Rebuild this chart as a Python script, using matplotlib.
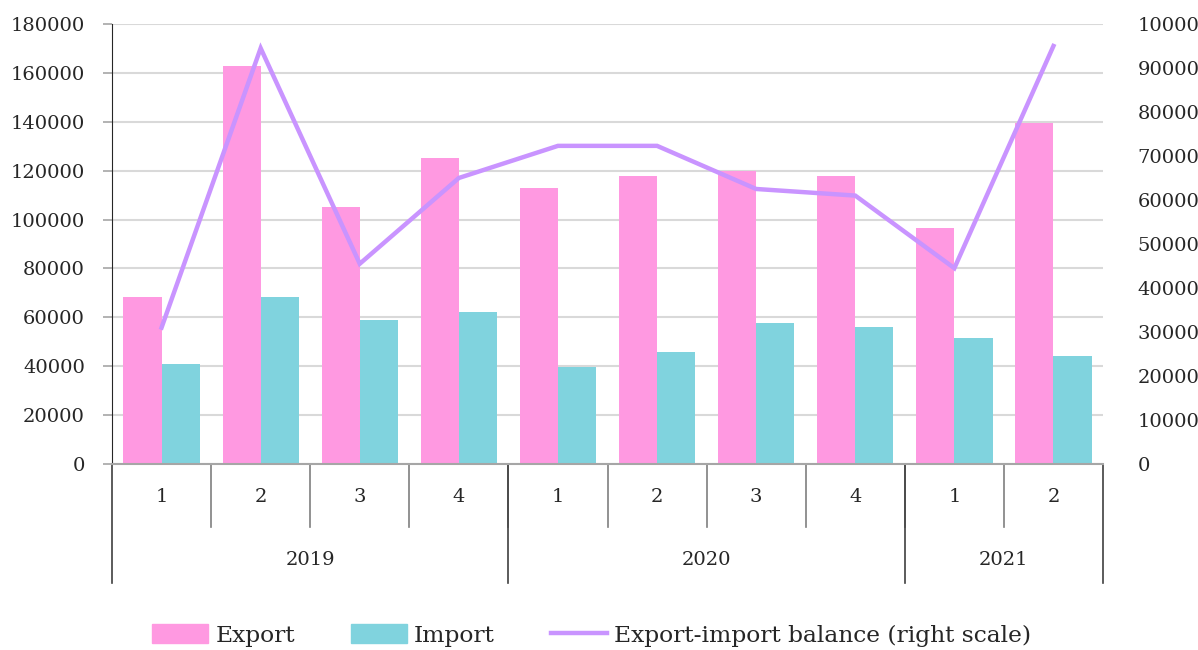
import matplotlib
matplotlib.use("Agg")
import matplotlib.pyplot as plt
import matplotlib.transforms as mtransforms
import numpy as np
from matplotlib.lines import Line2D
from matplotlib.patches import Patch

quarters = ["1", "2", "3", "4", "1", "2", "3", "4", "1", "2"]
years = ["2019", "2020", "2021"]
year_spans = [(0, 3), (4, 7), (8, 9)]
export = [68500, 163000, 105000, 125000, 113000, 118000, 120000, 118000, 96500, 139500]
imports = [41000, 68500, 59000, 62000, 39500, 46000, 57500, 56000, 51500, 44000]
balance = [31000, 94500, 45500, 65000, 72300, 72300, 62500, 61000, 44500, 95000]

PINK = "#ff99e1"
TEAL = "#80d3de"
PURPLE = "#c994ff"
TEXT = "#262626"

plt.rcParams["font.family"] = ["DejaVu Serif"]
plt.rcParams["font.size"] = 14
plt.rcParams["text.color"] = TEXT

fig = plt.figure(figsize=(11.98, 6.5), dpi=100)
ax = fig.add_axes([0.0935, 0.2862, 0.8272, 0.6769])
x = np.arange(len(quarters))
w = 0.385
ax.bar(x - w / 2, export, w, color=PINK, zorder=2)
ax.bar(x + w / 2, imports, w, color=TEAL, zorder=2)
ax.set_xlim(-0.5, len(quarters) - 0.5)
ax.set_ylim(0, 180000)
ax.set_yticks(np.arange(0, 180001, 20000))
ax.grid(axis="y", color="#d9d9d9", linewidth=1.5, zorder=0)
ax.set_xticks([])
for side in ["top", "right"]:
    ax.spines[side].set_visible(False)
ax.spines["left"].set_color("#262626")
ax.spines["bottom"].set_color("#a6a6a6")
ax.spines["bottom"].set_linewidth(1.5)
ax.tick_params(axis="y", length=6.5, width=1.2, color="#a6a6a6",
               labelcolor=TEXT, pad=13)

ax2 = ax.twinx()
ax2.plot(x, balance, color=PURPLE, linewidth=3.2, solid_joinstyle="miter")
ax2.set_ylim(0, 100000)
ax2.set_yticks(np.arange(0, 100001, 10000))
ax2.tick_params(axis="y", length=0, labelcolor=TEXT, pad=25)
for spine in ax2.spines.values():
    spine.set_visible(False)

# two-level category axis
trans = mtransforms.blended_transform_factory(ax.transData, ax.transAxes)
sep_color = "#404040"
for i, q in enumerate(quarters):
    ax.text(i, -0.075, q, transform=trans, ha="center", va="center")
for b in np.arange(0.5, len(quarters) - 1, 1.0):
    ax.plot([b, b], [0, -0.143], transform=trans, color="#7f7f7f",
            linewidth=1.2, clip_on=False)
for (a, b), yr in zip(year_spans, years):
    ax.text((a + b) / 2, -0.218, yr, transform=trans, ha="center", va="center")
for b in [-0.5, 3.5, 7.5, len(quarters) - 0.5]:
    ax.plot([b, b], [0, -0.27], transform=trans, color=sep_color,
            linewidth=1.2, clip_on=False)

handles = [Patch(color=PINK), Patch(color=TEAL),
           Line2D([], [], color=PURPLE, linewidth=3.2)]
labels = ["Export", "Import", "Export-import balance (right scale)"]
fig.legend(handles, labels, loc="center", bbox_to_anchor=(0.494, 0.022),
           ncol=3, frameon=False, fontsize=16.8, handlelength=2.4,
           handleheight=0.86, handletextpad=0.3, columnspacing=2.4)

fig.savefig("out.png", dpi=100)
